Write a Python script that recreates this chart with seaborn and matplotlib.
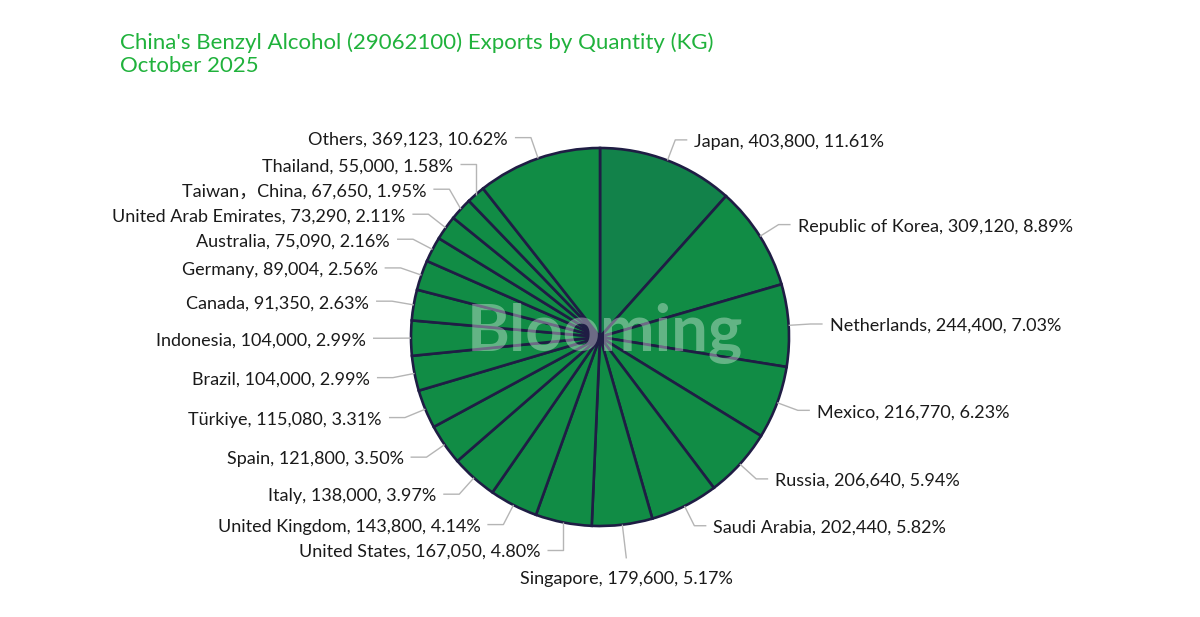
import numpy as np
import matplotlib
matplotlib.use("Agg")
import matplotlib.pyplot as plt
import seaborn as sns

# ---------------- data ----------------
countries = ["Japan", "Republic of Korea", "Netherlands", "Mexico", "Russia",
             "Saudi Arabia", "Singapore", "United States", "United Kingdom",
             "Italy", "Spain", "Türkiye", "Brazil", "Indonesia", "Canada",
             "Germany", "Australia", "United Arab Emirates", "Taiwan，China",
             "Thailand", "Others"]
quantities = [403800, 309120, 244400, 216770, 206640, 202440, 179600, 167050,
              143800, 138000, 121800, 115080, 104000, 104000, 91350, 89004,
              75090, 73290, 67650, 55000, 369123]
title_lines = ["China's Benzyl Alcohol (29062100) Exports by Quantity (KG)",
               "October 2025"]

# ---------------- style ----------------
sns.set_theme(style="white")
FONT = ["Lato", "Noto Sans CJK SC", "DejaVu Sans"]
plt.rcParams["font.family"] = FONT

W, H = 1200, 617
fig = plt.figure(figsize=(W / 100, H / 100), dpi=100)
ax = fig.add_axes([0, 0, 1, 1])

cx, cy, r = 600, H - 337, 189
base = "#118c45"
colors = ["#12824a"] + [base] * (len(quantities) - 1)

wedges, _ = ax.pie(quantities, colors=colors, startangle=90, counterclock=False,
                   center=(cx, cy), radius=r,
                   wedgeprops=dict(edgecolor="#1f1d44", linewidth=1.9))
ax.set_xlim(0, W)
ax.set_ylim(0, H)
ax.set_aspect("equal")
ax.axis("off")

total = sum(quantities)
L1, GAP, MIN_SEP = 22, 7, 25
L2 = {"right": 12, "left": 16}
R2 = r + L1
TXT_DY = -2  # visual centring of text

items = []
for w, name, q in zip(wedges, countries, quantities):
    th = np.deg2rad((w.theta1 + w.theta2) / 2)
    c, s = np.cos(th), np.sin(th)
    label = f"{name}, {q:,}, {q / total * 100:.2f}%"
    kind = "bottom" if (abs(c) < 0.15 and s < 0) else ("right" if c >= 0 else "left")
    items.append(dict(c=c, s=s, y=cy + R2 * s, label=label, kind=kind))

# push overlapping labels apart (upper half upward, lower half downward)
for side in ("left", "right"):
    its = [it for it in items if it["kind"] == side]
    upper = sorted([it for it in its if it["y"] >= cy], key=lambda d: d["y"])
    prev = None
    for it in upper:
        if prev is not None and it["y"] < prev + MIN_SEP:
            it["y"] = prev + MIN_SEP
        prev = it["y"]
    lower = sorted([it for it in its if it["y"] < cy], key=lambda d: -d["y"])
    prev = None
    for it in lower:
        if prev is not None and it["y"] > prev - MIN_SEP:
            it["y"] = prev - MIN_SEP
        prev = it["y"]

line_kw = dict(color="#b5b5b5", lw=1.0, zorder=1, solid_capstyle="butt")
txt_kw = dict(fontsize=13, color="#1a1a1a", family=FONT, va="center")
for it in items:
    ex, ey = cx + r * it["c"], cy + r * it["s"]
    if it["kind"] == "bottom":
        Rb = r + 34
        px, py = cx + Rb * it["c"], cy + Rb * it["s"]
        ax.plot([ex, px], [ey, py], **line_kw)
        ax.text(px, py - 19 + TXT_DY, it["label"], ha="center", **txt_kw)
        continue
    side = it["kind"]
    sign = 1 if side == "right" else -1
    dy = it["y"] - cy
    dx = max(np.sqrt(max(R2 ** 2 - dy ** 2, 0.0)), r * abs(it["c"]))
    px, py = cx + sign * dx, it["y"]
    qx = px + sign * L2[side]
    ax.plot([ex, px, qx], [ey, py, py], **line_kw)
    ax.text(qx + sign * GAP, py + TXT_DY, it["label"],
            ha="left" if sign > 0 else "right", **txt_kw)

# watermark
ax.text(cx + 5, cy + 3, "Blooming", ha="center", va="center", fontsize=47,
        fontweight="bold", color="white", alpha=0.35, family=FONT, zorder=5)

# title
fig.text(120 / W, 1 - 43 / H, title_lines[0], ha="left", va="center",
         fontsize=16, color="#20b23c", family=FONT)
fig.text(120 / W, 1 - 66 / H, title_lines[1], ha="left", va="center",
         fontsize=16, color="#20b23c", family=FONT)

fig.savefig("out.png", dpi=100, facecolor="white")
